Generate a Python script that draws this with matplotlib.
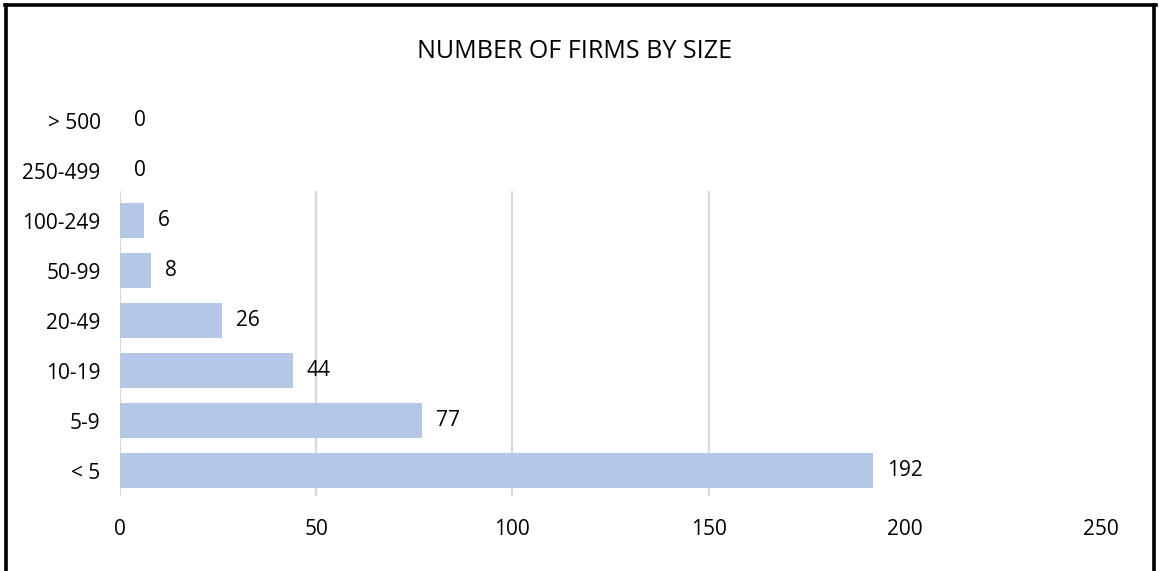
import matplotlib.pyplot as plt
from matplotlib.lines import Line2D

# firm size classes, bottom to top
sizes = ['< 5', '5-9', '10-19', '20-49', '50-99', '100-249', '250-499', '> 500']
firms = [192, 77, 44, 26, 8, 6, 0, 0]
x_ticks = [0, 50, 100, 150, 200, 250]

plt.rcParams['font.family'] = ['Open Sans', 'DejaVu Sans']

fig = plt.figure(figsize=(11.59, 5.71), dpi=100)
ax = fig.add_axes([0.1035, 0.1322, 0.8465, 0.7005])

# light grid, only the part visible in the original
ax.vlines([0, 50, 100, 150], -0.5, 5.6, color='#D9D9D9', lw=1.6, zorder=0)

pos = range(len(sizes))
bars = ax.barh(pos, firms, height=0.7, color='#B4C7E7', zorder=2)
ax.bar_label(bars, labels=[str(v) for v in firms], padding=10, fontsize=15)

ax.set_xlim(0, 250)
ax.set_ylim(-0.5, len(sizes) - 0.5)
ax.set_xticks(x_ticks)
ax.set_yticks(list(pos))
ax.set_yticklabels(sizes)
ax.tick_params(axis='both', length=0, labelsize=15)
ax.tick_params(axis='x', pad=17)
ax.tick_params(axis='y', pad=14)
for s in ax.spines.values():
    s.set_visible(False)

fig.text(575 / 1159, 1 - 51 / 571, 'NUMBER OF FIRMS BY SIZE', ha='center', va='center', fontsize=18)

# black frame on left, top and right
fig.add_artist(Line2D([0.0056, 0.0056], [0, 0.9904], color='black', lw=2.6, transform=fig.transFigure))
fig.add_artist(Line2D([0.0044, 0.9973], [0.9904, 0.9904], color='black', lw=2.6, transform=fig.transFigure))
fig.add_artist(Line2D([0.9961, 0.9961], [0, 0.9904], color='black', lw=2.6, transform=fig.transFigure))

fig.savefig('out.png', dpi=100)
